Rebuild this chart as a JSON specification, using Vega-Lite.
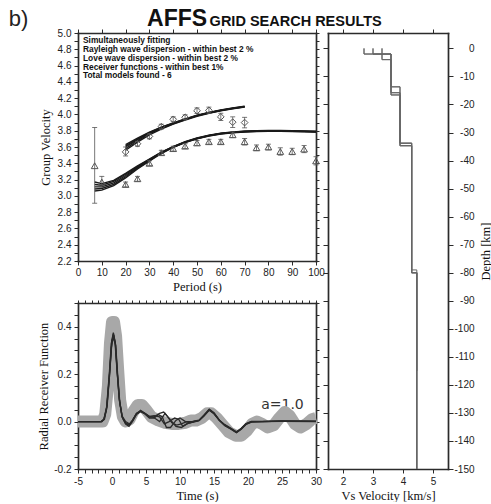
{
"$schema": "https://vega.github.io/schema/vega-lite/v6.json",
"padding": {"left": 8, "top": 7, "right": 0, "bottom": 0},
"background": "white",
"width": 370,
"height": 436,
"config": {
  "view": {"stroke": null},
  "axis": {"domain": true, "domainColor": "#2b2b2b", "domainWidth": 1.7, "domainCap": "square", "grid": false, "labelFont": "Liberation Sans", "labelFontSize": 10, "labelColor": "#222", "tickColor": "#2b2b2b", "tickSize": 4, "labelPadding": 2, "titleFont": "Liberation Serif", "titleFontSize": 12.5, "titleFontWeight": "normal", "titleColor": "#111", "labelOverlap": false, "labelFlush": false},
  "text": {"font": "Liberation Sans"}
},
"datasets": {
  "disp": [
    {"w":"L","p":20,"v":3.54,"lo":3.49,"hi":3.60},
    {"w":"L","p":25,"v":3.64,"lo":3.61,"hi":3.67},
    {"w":"L","p":30,"v":3.73,"lo":3.70,"hi":3.76},
    {"w":"L","p":35,"v":3.85,"lo":3.82,"hi":3.88},
    {"w":"L","p":40,"v":3.94,"lo":3.91,"hi":3.97},
    {"w":"L","p":45,"v":3.965,"lo":3.935,"hi":3.995},
    {"w":"L","p":50,"v":4.045,"lo":4.01,"hi":4.08},
    {"w":"L","p":55,"v":4.05,"lo":4.015,"hi":4.09},
    {"w":"L","p":60,"v":3.97,"lo":3.925,"hi":4.015},
    {"w":"L","p":65,"v":3.905,"lo":3.84,"hi":3.97},
    {"w":"L","p":70,"v":3.90,"lo":3.835,"hi":3.965},
    {"w":"R","p":7,"v":3.37,"lo":2.91,"hi":3.84},
    {"w":"R","p":10,"v":3.17,"lo":3.11,"hi":3.24},
    {"w":"R","p":20,"v":3.14,"lo":3.11,"hi":3.17},
    {"w":"R","p":25,"v":3.21,"lo":3.18,"hi":3.24},
    {"w":"R","p":30,"v":3.40,"lo":3.37,"hi":3.43},
    {"w":"R","p":35,"v":3.53,"lo":3.50,"hi":3.56},
    {"w":"R","p":40,"v":3.58,"lo":3.55,"hi":3.61},
    {"w":"R","p":45,"v":3.61,"lo":3.58,"hi":3.64},
    {"w":"R","p":50,"v":3.65,"lo":3.62,"hi":3.68},
    {"w":"R","p":55,"v":3.665,"lo":3.635,"hi":3.695},
    {"w":"R","p":60,"v":3.665,"lo":3.635,"hi":3.695},
    {"w":"R","p":65,"v":3.75,"lo":3.715,"hi":3.785},
    {"w":"R","p":70,"v":3.665,"lo":3.625,"hi":3.705},
    {"w":"R","p":75,"v":3.59,"lo":3.555,"hi":3.625},
    {"w":"R","p":80,"v":3.60,"lo":3.565,"hi":3.635},
    {"w":"R","p":85,"v":3.545,"lo":3.50,"hi":3.59},
    {"w":"R","p":90,"v":3.545,"lo":3.505,"hi":3.585},
    {"w":"R","p":95,"v":3.575,"lo":3.53,"hi":3.62},
    {"w":"R","p":100,"v":3.43,"lo":3.38,"hi":3.48}
  ],
  "dispModel": [
    {"k":"Ra","p":7,"v":3.06},{"k":"Ra","p":10,"v":3.07},{"k":"Ra","p":15,"v":3.125},{"k":"Ra","p":20,"v":3.22},{"k":"Ra","p":25,"v":3.33},{"k":"Ra","p":30,"v":3.425},{"k":"Ra","p":35,"v":3.52},{"k":"Ra","p":40,"v":3.595},{"k":"Ra","p":45,"v":3.655},{"k":"Ra","p":50,"v":3.70},{"k":"Ra","p":55,"v":3.735},{"k":"Ra","p":60,"v":3.76},{"k":"Ra","p":65,"v":3.775},{"k":"Ra","p":70,"v":3.785},{"k":"Ra","p":75,"v":3.79},{"k":"Ra","p":80,"v":3.792},{"k":"Ra","p":85,"v":3.792},{"k":"Ra","p":90,"v":3.79},{"k":"Ra","p":95,"v":3.787},{"k":"Ra","p":100,"v":3.783},
    {"k":"Rb","p":7,"v":3.085},{"k":"Rb","p":10,"v":3.09},{"k":"Rb","p":15,"v":3.14},{"k":"Rb","p":20,"v":3.235},{"k":"Rb","p":25,"v":3.34},{"k":"Rb","p":30,"v":3.432},{"k":"Rb","p":35,"v":3.525},{"k":"Rb","p":40,"v":3.597},{"k":"Rb","p":45,"v":3.657},{"k":"Rb","p":50,"v":3.703},{"k":"Rb","p":55,"v":3.738},{"k":"Rb","p":60,"v":3.763},{"k":"Rb","p":65,"v":3.778},{"k":"Rb","p":70,"v":3.788},{"k":"Rb","p":75,"v":3.793},{"k":"Rb","p":80,"v":3.795},{"k":"Rb","p":85,"v":3.795},{"k":"Rb","p":90,"v":3.793},{"k":"Rb","p":95,"v":3.79},{"k":"Rb","p":100,"v":3.786},
    {"k":"Rc","p":7,"v":3.11},{"k":"Rc","p":10,"v":3.11},{"k":"Rc","p":15,"v":3.16},{"k":"Rc","p":20,"v":3.25},{"k":"Rc","p":25,"v":3.35},{"k":"Rc","p":30,"v":3.44},{"k":"Rc","p":35,"v":3.53},{"k":"Rc","p":40,"v":3.60},{"k":"Rc","p":45,"v":3.66},{"k":"Rc","p":50,"v":3.705},{"k":"Rc","p":55,"v":3.74},{"k":"Rc","p":60,"v":3.765},{"k":"Rc","p":65,"v":3.78},{"k":"Rc","p":70,"v":3.79},{"k":"Rc","p":75,"v":3.795},{"k":"Rc","p":80,"v":3.797},{"k":"Rc","p":85,"v":3.797},{"k":"Rc","p":90,"v":3.795},{"k":"Rc","p":95,"v":3.792},{"k":"Rc","p":100,"v":3.788},
    {"k":"Rd","p":7,"v":3.14},{"k":"Rd","p":10,"v":3.13},{"k":"Rd","p":15,"v":3.178},{"k":"Rd","p":20,"v":3.265},{"k":"Rd","p":25,"v":3.36},{"k":"Rd","p":30,"v":3.448},{"k":"Rd","p":35,"v":3.535},{"k":"Rd","p":40,"v":3.603},{"k":"Rd","p":45,"v":3.663},{"k":"Rd","p":50,"v":3.708},{"k":"Rd","p":55,"v":3.743},{"k":"Rd","p":60,"v":3.768},{"k":"Rd","p":65,"v":3.783},{"k":"Rd","p":70,"v":3.793},{"k":"Rd","p":75,"v":3.798},{"k":"Rd","p":80,"v":3.80},{"k":"Rd","p":85,"v":3.80},{"k":"Rd","p":90,"v":3.798},{"k":"Rd","p":95,"v":3.795},{"k":"Rd","p":100,"v":3.791},
    {"k":"Re","p":7,"v":3.17},{"k":"Re","p":10,"v":3.15},{"k":"Re","p":15,"v":3.19},{"k":"Re","p":20,"v":3.275},{"k":"Re","p":25,"v":3.368},{"k":"Re","p":30,"v":3.452},{"k":"Re","p":35,"v":3.538},{"k":"Re","p":40,"v":3.605},{"k":"Re","p":45,"v":3.665},{"k":"Re","p":50,"v":3.71},{"k":"Re","p":55,"v":3.745},{"k":"Re","p":60,"v":3.77},{"k":"Re","p":65,"v":3.785},{"k":"Re","p":70,"v":3.795},{"k":"Re","p":75,"v":3.80},{"k":"Re","p":80,"v":3.802},{"k":"Re","p":85,"v":3.802},{"k":"Re","p":90,"v":3.80},{"k":"Re","p":95,"v":3.797},{"k":"Re","p":100,"v":3.793},
    {"k":"La","p":20,"v":3.56},{"k":"La","p":25,"v":3.66},{"k":"La","p":30,"v":3.75},{"k":"La","p":35,"v":3.82},{"k":"La","p":40,"v":3.88},{"k":"La","p":45,"v":3.932},{"k":"La","p":50,"v":3.978},{"k":"La","p":55,"v":4.015},{"k":"La","p":60,"v":4.045},{"k":"La","p":65,"v":4.07},{"k":"La","p":70,"v":4.09},
    {"k":"Lb","p":20,"v":3.58},{"k":"Lb","p":25,"v":3.675},{"k":"Lb","p":30,"v":3.76},{"k":"Lb","p":35,"v":3.828},{"k":"Lb","p":40,"v":3.885},{"k":"Lb","p":45,"v":3.936},{"k":"Lb","p":50,"v":3.982},{"k":"Lb","p":55,"v":4.018},{"k":"Lb","p":60,"v":4.048},{"k":"Lb","p":65,"v":4.073},{"k":"Lb","p":70,"v":4.093},
    {"k":"Lc","p":20,"v":3.60},{"k":"Lc","p":25,"v":3.69},{"k":"Lc","p":30,"v":3.77},{"k":"Lc","p":35,"v":3.835},{"k":"Lc","p":40,"v":3.89},{"k":"Lc","p":45,"v":3.94},{"k":"Lc","p":50,"v":3.985},{"k":"Lc","p":55,"v":4.02},{"k":"Lc","p":60,"v":4.05},{"k":"Lc","p":65,"v":4.075},{"k":"Lc","p":70,"v":4.095},
    {"k":"Ld","p":20,"v":3.615},{"k":"Ld","p":25,"v":3.70},{"k":"Ld","p":30,"v":3.776},{"k":"Ld","p":35,"v":3.84},{"k":"Ld","p":40,"v":3.894},{"k":"Ld","p":45,"v":3.943},{"k":"Ld","p":50,"v":3.988},{"k":"Ld","p":55,"v":4.022},{"k":"Ld","p":60,"v":4.052},{"k":"Ld","p":65,"v":4.077},{"k":"Ld","p":70,"v":4.097},
    {"k":"Le","p":20,"v":3.63},{"k":"Le","p":25,"v":3.71},{"k":"Le","p":30,"v":3.782},{"k":"Le","p":35,"v":3.845},{"k":"Le","p":40,"v":3.897},{"k":"Le","p":45,"v":3.946},{"k":"Le","p":50,"v":3.99},{"k":"Le","p":55,"v":4.025},{"k":"Le","p":60,"v":4.055},{"k":"Le","p":65,"v":4.08},{"k":"Le","p":70,"v":4.10}
  ],
  "notes": [
    {"lines": ["Simultaneously fitting", "Rayleigh wave dispersion - within best 2 %", "Love wave dispersion - within best 2 %", "Receiver functions - within best 1%", "Total models found - 6"]}
  ],
  "rfObs": [
    {"t":-5,"a":0},{"t":-1.4,"a":0},{"t":-1.0,"a":0.03},{"t":-0.6,"a":0.15},{"t":-0.3,"a":0.33},{"t":0.0,"a":0.42},{"t":0.3,"a":0.42},{"t":0.6,"a":0.36},{"t":0.9,"a":0.22},{"t":1.2,"a":0.09},{"t":1.6,"a":0.02},{"t":2.0,"a":0.0},{"t":2.6,"a":0.01},{"t":3.2,"a":0.045},{"t":3.8,"a":0.07},{"t":4.4,"a":0.07},{"t":5.0,"a":0.05},{"t":5.8,"a":0.02},{"t":6.8,"a":0.005},{"t":7.8,"a":-0.005},{"t":8.8,"a":-0.01},{"t":9.8,"a":-0.01},{"t":10.8,"a":-0.005},{"t":11.6,"a":0.005},{"t":12.4,"a":0.005},{"t":13.2,"a":0.015},{"t":14.0,"a":0.035},{"t":14.6,"a":0.035},{"t":15.4,"a":0.015},{"t":16.3,"a":-0.015},{"t":17.2,"a":-0.045},{"t":18.2,"a":-0.06},{"t":19.0,"a":-0.06},{"t":19.8,"a":-0.04},{"t":20.6,"a":-0.01},{"t":21.3,"a":0.0},{"t":22.1,"a":-0.01},{"t":22.9,"a":-0.025},{"t":23.8,"a":-0.015},{"t":24.6,"a":0.015},{"t":25.4,"a":0.04},{"t":26.1,"a":0.025},{"t":26.9,"a":-0.01},{"t":27.7,"a":-0.025},{"t":28.6,"a":-0.01},{"t":29.4,"a":0.01},{"t":30.0,"a":0.015}
  ],
  "rfModel": [
    {"m":"A","t":-5,"a":0},{"m":"A","t":-1.6,"a":0},{"m":"A","t":-1.2,"a":0.01},{"m":"A","t":-0.8,"a":0.06},{"m":"A","t":-0.4,"a":0.2},{"m":"A","t":-0.1,"a":0.33},{"m":"A","t":0.2,"a":0.375},{"m":"A","t":0.5,"a":0.33},{"m":"A","t":0.8,"a":0.2},{"m":"A","t":1.1,"a":0.09},{"m":"A","t":1.5,"a":0.02},{"m":"A","t":2.0,"a":-0.005},{"m":"A","t":2.5,"a":-0.015},{"m":"A","t":3.0,"a":0.005},{"m":"A","t":3.6,"a":0.035},{"m":"A","t":4.2,"a":0.045},{"m":"A","t":4.8,"a":0.035},{"m":"A","t":5.5,"a":0.02},{"m":"A","t":6.2,"a":0.02},{"m":"A","t":7.0,"a":0.035},{"m":"A","t":7.6,"a":0.04},{"m":"A","t":8.2,"a":0.02},{"m":"A","t":8.8,"a":-0.005},{"m":"A","t":9.5,"a":-0.015},{"m":"A","t":10.2,"a":-0.01},{"m":"A","t":11,"a":0.0},{"m":"A","t":12,"a":0.0},{"m":"A","t":12.8,"a":0.005},{"m":"A","t":13.5,"a":0.025},{"m":"A","t":14.3,"a":0.05},{"m":"A","t":15.0,"a":0.035},{"m":"A","t":15.8,"a":0.005},{"m":"A","t":16.6,"a":-0.015},{"m":"A","t":17.5,"a":-0.03},{"m":"A","t":18.3,"a":-0.045},{"m":"A","t":19.0,"a":-0.03},{"m":"A","t":19.7,"a":-0.01},{"m":"A","t":20.5,"a":0.0},{"m":"A","t":22,"a":0.0},{"m":"A","t":25,"a":0.002},{"m":"A","t":30,"a":0.001},
    {"m":"B","t":-5,"a":0},{"m":"B","t":-1.5,"a":0},{"m":"B","t":-1.1,"a":0.01},{"m":"B","t":-0.7,"a":0.07},{"m":"B","t":-0.3,"a":0.22},{"m":"B","t":0.0,"a":0.34},{"m":"B","t":0.25,"a":0.365},{"m":"B","t":0.55,"a":0.32},{"m":"B","t":0.85,"a":0.19},{"m":"B","t":1.15,"a":0.08},{"m":"B","t":1.55,"a":0.015},{"m":"B","t":2.0,"a":-0.01},{"m":"B","t":2.5,"a":-0.02},{"m":"B","t":3.0,"a":0.0},{"m":"B","t":3.6,"a":0.03},{"m":"B","t":4.2,"a":0.042},{"m":"B","t":4.8,"a":0.033},{"m":"B","t":5.5,"a":0.015},{"m":"B","t":6.2,"a":0.015},{"m":"B","t":6.8,"a":0.03},{"m":"B","t":7.4,"a":0.02},{"m":"B","t":8.0,"a":-0.025},{"m":"B","t":8.6,"a":-0.025},{"m":"B","t":9.4,"a":0.005},{"m":"B","t":10.0,"a":0.015},{"m":"B","t":10.8,"a":0.0},{"m":"B","t":11.5,"a":-0.005},{"m":"B","t":12,"a":-0.002},{"m":"B","t":12.8,"a":0.004},{"m":"B","t":13.5,"a":0.022},{"m":"B","t":14.3,"a":0.048},{"m":"B","t":15.0,"a":0.033},{"m":"B","t":15.8,"a":0.004},{"m":"B","t":16.6,"a":-0.017},{"m":"B","t":17.5,"a":-0.032},{"m":"B","t":18.3,"a":-0.047},{"m":"B","t":19.0,"a":-0.032},{"m":"B","t":19.7,"a":-0.012},{"m":"B","t":20.5,"a":-0.002},{"m":"B","t":22,"a":0.0},{"m":"B","t":25,"a":0.001},{"m":"B","t":30,"a":0.0},
    {"m":"C","t":-5,"a":0},{"m":"C","t":-1.6,"a":0},{"m":"C","t":-1.2,"a":0.008},{"m":"C","t":-0.8,"a":0.05},{"m":"C","t":-0.4,"a":0.18},{"m":"C","t":-0.1,"a":0.31},{"m":"C","t":0.15,"a":0.355},{"m":"C","t":0.45,"a":0.33},{"m":"C","t":0.75,"a":0.21},{"m":"C","t":1.05,"a":0.1},{"m":"C","t":1.45,"a":0.025},{"m":"C","t":2.0,"a":0.0},{"m":"C","t":2.6,"a":-0.01},{"m":"C","t":3.1,"a":0.008},{"m":"C","t":3.6,"a":0.032},{"m":"C","t":4.2,"a":0.047},{"m":"C","t":4.8,"a":0.036},{"m":"C","t":5.5,"a":0.022},{"m":"C","t":6.2,"a":0.025},{"m":"C","t":7.0,"a":0.02},{"m":"C","t":7.7,"a":-0.01},{"m":"C","t":8.4,"a":0.0},{"m":"C","t":9.2,"a":0.015},{"m":"C","t":9.8,"a":0.01},{"m":"C","t":10.4,"a":-0.02},{"m":"C","t":11,"a":-0.01},{"m":"C","t":12,"a":0.002},{"m":"C","t":12.8,"a":0.006},{"m":"C","t":13.5,"a":0.027},{"m":"C","t":14.3,"a":0.052},{"m":"C","t":15.0,"a":0.037},{"m":"C","t":15.8,"a":0.006},{"m":"C","t":16.6,"a":-0.013},{"m":"C","t":17.5,"a":-0.028},{"m":"C","t":18.3,"a":-0.043},{"m":"C","t":19.0,"a":-0.028},{"m":"C","t":19.7,"a":-0.008},{"m":"C","t":20.5,"a":0.001},{"m":"C","t":22,"a":0.001},{"m":"C","t":25,"a":0.003},{"m":"C","t":30,"a":0.002},
    {"m":"D","t":-5,"a":0},{"m":"D","t":-1.5,"a":0},{"m":"D","t":-1.15,"a":0.012},{"m":"D","t":-0.75,"a":0.065},{"m":"D","t":-0.35,"a":0.21},{"m":"D","t":-0.05,"a":0.335},{"m":"D","t":0.2,"a":0.37},{"m":"D","t":0.5,"a":0.325},{"m":"D","t":0.8,"a":0.195},{"m":"D","t":1.1,"a":0.085},{"m":"D","t":1.5,"a":0.018},{"m":"D","t":2.0,"a":-0.008},{"m":"D","t":2.5,"a":-0.012},{"m":"D","t":3.0,"a":0.003},{"m":"D","t":3.6,"a":0.033},{"m":"D","t":4.2,"a":0.044},{"m":"D","t":4.8,"a":0.034},{"m":"D","t":5.5,"a":0.02},{"m":"D","t":6.0,"a":0.02},{"m":"D","t":7.0,"a":0.0},{"m":"D","t":7.8,"a":0.035},{"m":"D","t":8.5,"a":0.01},{"m":"D","t":9.4,"a":-0.02},{"m":"D","t":10.2,"a":-0.025},{"m":"D","t":11,"a":-0.01},{"m":"D","t":12,"a":0.0},{"m":"D","t":12.8,"a":0.005},{"m":"D","t":13.5,"a":0.024},{"m":"D","t":14.3,"a":0.049},{"m":"D","t":15.0,"a":0.034},{"m":"D","t":15.8,"a":0.005},{"m":"D","t":16.6,"a":-0.016},{"m":"D","t":17.5,"a":-0.031},{"m":"D","t":18.3,"a":-0.046},{"m":"D","t":19.0,"a":-0.031},{"m":"D","t":19.7,"a":-0.011},{"m":"D","t":20.5,"a":-0.001},{"m":"D","t":22,"a":0.0},{"m":"D","t":25,"a":0.002},{"m":"D","t":30,"a":0.001}
  ],
  "vs": [
    {"m":1,"i":0,"vs":2.7,"z":0},{"m":1,"i":1,"vs":2.7,"z":-2},{"m":1,"i":2,"vs":3.6,"z":-2},{"m":1,"i":3,"vs":3.6,"z":-13.7},{"m":1,"i":4,"vs":3.9,"z":-13.7},{"m":1,"i":5,"vs":3.9,"z":-33.8},{"m":1,"i":6,"vs":4.29,"z":-33.8},{"m":1,"i":7,"vs":4.29,"z":-80},{"m":1,"i":8,"vs":4.46,"z":-80},{"m":1,"i":9,"vs":4.46,"z":-150},
    {"m":2,"i":0,"vs":3.0,"z":0},{"m":2,"i":1,"vs":3.0,"z":-2},{"m":2,"i":2,"vs":3.6,"z":-2},{"m":2,"i":3,"vs":3.6,"z":-15.8},{"m":2,"i":4,"vs":3.9,"z":-15.8},{"m":2,"i":5,"vs":3.9,"z":-34.7},{"m":2,"i":6,"vs":4.29,"z":-34.7},{"m":2,"i":7,"vs":4.29,"z":-79},{"m":2,"i":8,"vs":4.46,"z":-79},{"m":2,"i":9,"vs":4.46,"z":-150},
    {"m":3,"i":0,"vs":3.3,"z":0},{"m":3,"i":1,"vs":3.3,"z":-4},{"m":3,"i":2,"vs":3.6,"z":-4},{"m":3,"i":3,"vs":3.6,"z":-16.6},{"m":3,"i":4,"vs":3.9,"z":-16.6},{"m":3,"i":5,"vs":3.9,"z":-33.8},{"m":3,"i":6,"vs":4.29,"z":-33.8},{"m":3,"i":7,"vs":4.29,"z":-80},{"m":3,"i":8,"vs":4.46,"z":-80},{"m":3,"i":9,"vs":4.46,"z":-115},
    {"m":4,"i":0,"vs":2.7,"z":0},{"m":4,"i":1,"vs":2.7,"z":-2},{"m":4,"i":2,"vs":3.3,"z":-2},{"m":4,"i":3,"vs":3.3,"z":-4},{"m":4,"i":4,"vs":3.6,"z":-4},{"m":4,"i":5,"vs":3.6,"z":-13.7},{"m":4,"i":6,"vs":3.9,"z":-13.7},{"m":4,"i":7,"vs":3.9,"z":-34.7},{"m":4,"i":8,"vs":4.29,"z":-34.7},{"m":4,"i":9,"vs":4.29,"z":-80},{"m":4,"i":10,"vs":4.46,"z":-80},{"m":4,"i":11,"vs":4.46,"z":-150},
    {"m":5,"i":0,"vs":3.0,"z":0},{"m":5,"i":1,"vs":3.0,"z":-2},{"m":5,"i":2,"vs":3.6,"z":-2},{"m":5,"i":3,"vs":3.6,"z":-16.6},{"m":5,"i":4,"vs":3.9,"z":-16.6},{"m":5,"i":5,"vs":3.9,"z":-33.8},{"m":5,"i":6,"vs":4.29,"z":-33.8},{"m":5,"i":7,"vs":4.29,"z":-80},{"m":5,"i":8,"vs":4.46,"z":-80},{"m":5,"i":9,"vs":4.46,"z":-115},
    {"m":6,"i":0,"vs":3.3,"z":0},{"m":6,"i":1,"vs":3.3,"z":-2},{"m":6,"i":2,"vs":3.6,"z":-2},{"m":6,"i":3,"vs":3.6,"z":-15.8},{"m":6,"i":4,"vs":3.9,"z":-15.8},{"m":6,"i":5,"vs":3.9,"z":-34.7},{"m":6,"i":6,"vs":4.29,"z":-34.7},{"m":6,"i":7,"vs":4.29,"z":-80},{"m":6,"i":8,"vs":4.46,"z":-80},{"m":6,"i":9,"vs":4.46,"z":-150}
  ]
},
"resolve": {"scale": {"x": "independent", "y": "independent"}, "axis": {"x": "independent", "y": "independent"}},
"layer": [
  {
    "data": {"name": "dispModel"},
    "mark": {"type": "line", "color": "#1a1a1a", "strokeWidth": 1.4},
    "encoding": {
      "x": {"field": "p", "type": "quantitative", "scale": {"domain": [0, 100], "range": [0, 238], "nice": false, "zero": false},
            "axis": {"orient": "bottom", "offset": -208, "values": [0,10,20,30,40,50,60,70,80,90,100], "format": "d", "title": "Period (s)", "titlePadding": 3}},
      "y": {"field": "v", "type": "quantitative", "scale": {"domain": [2.2, 5.0], "range": [228, 0], "nice": false, "zero": false},
            "axis": {"orient": "left", "values": [2.2,2.3,2.4,2.5,2.6,2.7,2.8,2.9,3.0,3.1,3.2,3.3,3.4,3.5,3.6,3.7,3.8,3.9,4.0,4.1,4.2,4.3,4.4,4.5,4.6,4.7,4.8,4.9,5.0],
                     "labelExpr": "abs(round(datum.value*10)) % 2 == 0 ? format(datum.value, '.1f') : ''", "labelPadding": 3,
                     "title": "Group Velocity", "minExtent": 22, "maxExtent": 22, "titlePadding": 4}},
      "detail": {"field": "k"}
    }
  },
  {
    "data": {"name": "disp"},
    "mark": {"type": "point", "opacity": 0},
    "encoding": {
      "x": {"field": "p", "type": "quantitative", "scale": {"domain": [0, 100], "range": [0, 238], "nice": false, "zero": false},
            "axis": {"orient": "top", "values": [0,10,20,30,40,50,60,70,80,90,100], "labels": false, "title": null, "tickSize": 4}},
      "y": {"field": "v", "type": "quantitative", "scale": {"domain": [2.2, 5.0], "range": [228, 0], "nice": false, "zero": false},
            "axis": {"orient": "right", "offset": -132, "values": [2.2,2.3,2.4,2.5,2.6,2.7,2.8,2.9,3.0,3.1,3.2,3.3,3.4,3.5,3.6,3.7,3.8,3.9,4.0,4.1,4.2,4.3,4.4,4.5,4.6,4.7,4.8,4.9,5.0], "labels": false, "title": null, "tickSize": 3}}
    }
  },
  {
    "data": {"name": "disp"},
    "mark": {"type": "rule", "color": "#555", "strokeWidth": 0.8},
    "encoding": {
      "x": {"field": "p", "type": "quantitative", "scale": {"domain": [0, 100], "range": [0, 238], "nice": false, "zero": false}, "axis": null},
      "y": {"field": "lo", "type": "quantitative", "scale": {"domain": [2.2, 5.0], "range": [228, 0], "nice": false, "zero": false}, "axis": null},
      "y2": {"field": "hi"}
    }
  },
  {
    "data": {"name": "disp"},
    "mark": {"type": "tick", "orient": "horizontal", "size": 5, "thickness": 0.8, "color": "#555", "opacity": 1},
    "encoding": {
      "x": {"field": "p", "type": "quantitative", "scale": {"domain": [0, 100], "range": [0, 238], "nice": false, "zero": false}, "axis": null},
      "y": {"field": "lo", "type": "quantitative", "scale": {"domain": [2.2, 5.0], "range": [228, 0], "nice": false, "zero": false}, "axis": null}
    }
  },
  {
    "data": {"name": "disp"},
    "mark": {"type": "tick", "orient": "horizontal", "size": 5, "thickness": 0.8, "color": "#555", "opacity": 1},
    "encoding": {
      "x": {"field": "p", "type": "quantitative", "scale": {"domain": [0, 100], "range": [0, 238], "nice": false, "zero": false}, "axis": null},
      "y": {"field": "hi", "type": "quantitative", "scale": {"domain": [2.2, 5.0], "range": [228, 0], "nice": false, "zero": false}, "axis": null}
    }
  },
  {
    "data": {"name": "disp"},
    "mark": {"type": "point", "filled": false, "color": "#555", "strokeWidth": 1, "size": 45, "opacity": 1},
    "encoding": {
      "x": {"field": "p", "type": "quantitative", "scale": {"domain": [0, 100], "range": [0, 238], "nice": false, "zero": false}, "axis": null},
      "y": {"field": "v", "type": "quantitative", "scale": {"domain": [2.2, 5.0], "range": [228, 0], "nice": false, "zero": false}, "axis": null},
      "shape": {"field": "w", "type": "nominal", "scale": {"domain": ["L", "R"], "range": ["diamond", "triangle-up"]}, "legend": null}
    }
  },
  {
    "data": {"name": "notes"},
    "mark": {"type": "text", "align": "left", "baseline": "top", "font": "Liberation Sans", "fontWeight": "bold", "fontSize": 8.4, "lineHeight": 8.8, "color": "#111"},
    "encoding": {
      "x": {"datum": 2.1, "type": "quantitative", "scale": {"domain": [0, 100], "range": [0, 238], "nice": false, "zero": false}, "axis": null},
      "y": {"datum": 4.96, "type": "quantitative", "scale": {"domain": [2.2, 5.0], "range": [228, 0], "nice": false, "zero": false}, "axis": null},
      "text": {"field": "lines"}
    }
  },
  {
    "data": {"values": [{"txt": "b)"}]},
    "mark": {"type": "text", "align": "left", "baseline": "alphabetic", "font": "Liberation Sans", "fontSize": 22, "color": "#222"},
    "encoding": {
      "x": {"datum": -29.1, "type": "quantitative", "scale": {"domain": [0, 100], "range": [0, 238], "nice": false, "zero": false}, "axis": null},
      "y": {"datum": 5.092, "type": "quantitative", "scale": {"domain": [2.2, 5.0], "range": [228, 0], "nice": false, "zero": false}, "axis": null},
      "text": {"field": "txt"}
    }
  },
  {
    "data": {"values": [{"txt": "AFFS"}]},
    "mark": {"type": "text", "align": "left", "baseline": "alphabetic", "font": "Liberation Sans", "fontWeight": "bold", "fontSize": 23, "color": "#111"},
    "encoding": {
      "x": {"datum": 29.0, "type": "quantitative", "scale": {"domain": [0, 100], "range": [0, 238], "nice": false, "zero": false}, "axis": null},
      "y": {"datum": 5.08, "type": "quantitative", "scale": {"domain": [2.2, 5.0], "range": [228, 0], "nice": false, "zero": false}, "axis": null},
      "text": {"field": "txt"}
    }
  },
  {
    "data": {"values": [{"txt": "GRID SEARCH RESULTS"}]},
    "mark": {"type": "text", "align": "left", "baseline": "alphabetic", "font": "Liberation Sans", "fontWeight": "bold", "fontSize": 14.5, "color": "#111"},
    "encoding": {
      "x": {"datum": 55.3, "type": "quantitative", "scale": {"domain": [0, 100], "range": [0, 238], "nice": false, "zero": false}, "axis": null},
      "y": {"datum": 5.086, "type": "quantitative", "scale": {"domain": [2.2, 5.0], "range": [228, 0], "nice": false, "zero": false}, "axis": null},
      "text": {"field": "txt"}
    }
  },
  {
    "data": {"values": [{"txt": "a=1.0"}]},
    "mark": {"type": "text", "align": "center", "baseline": "middle", "font": "DejaVu Sans", "fontSize": 14, "color": "#333"},
    "encoding": {
      "x": {"datum": 25.07, "type": "quantitative", "scale": {"domain": [-5, 30], "range": [0, 238], "nice": false, "zero": false}, "axis": null},
      "y": {"datum": 0.069, "type": "quantitative", "scale": {"domain": [-0.2, 0.5], "range": [436, 270], "nice": false, "zero": false}, "axis": null},
      "text": {"field": "txt"}
    }
  },
  {
    "data": {"name": "rfObs"},
    "mark": {"type": "line", "color": "#a8a8a8", "strokeWidth": 12, "strokeJoin": "round", "strokeCap": "butt"},
    "encoding": {
      "x": {"field": "t", "type": "quantitative", "scale": {"domain": [-5, 30], "range": [0, 238], "nice": false, "zero": false},
            "axis": {"orient": "bottom", "values": [-5,-4,-3,-2,-1,0,1,2,3,4,5,6,7,8,9,10,11,12,13,14,15,16,17,18,19,20,21,22,23,24,25,26,27,28,29,30],
                     "labelExpr": "datum.value % 5 == 0 ? '' + datum.value : ''", "labelPadding": 3, "title": "Time (s)", "titlePadding": 3}},
      "y": {"field": "a", "type": "quantitative", "scale": {"domain": [-0.2, 0.5], "range": [436, 270], "nice": false, "zero": false},
            "axis": {"orient": "left", "values": [-0.2,-0.15,-0.1,-0.05,0,0.05,0.1,0.15,0.2,0.25,0.3,0.35,0.4,0.45,0.5],
                     "labelExpr": "abs(round(datum.value*100)) % 20 == 0 ? replace(format(datum.value, '.1f'), '\u2212', '-') : ''", "labelPadding": 3,
                     "title": "Radial Receiver Function", "minExtent": 22, "maxExtent": 22, "titlePadding": 6}}
    }
  },
  {
    "data": {"name": "rfObs"},
    "mark": {"type": "point", "opacity": 0},
    "encoding": {
      "x": {"field": "t", "type": "quantitative", "scale": {"domain": [-5, 30], "range": [0, 238], "nice": false, "zero": false},
            "axis": {"orient": "top", "offset": -270, "values": [-5,-4,-3,-2,-1,0,1,2,3,4,5,6,7,8,9,10,11,12,13,14,15,16,17,18,19,20,21,22,23,24,25,26,27,28,29,30], "labels": false, "title": null, "tickSize": 3}},
      "y": {"field": "a", "type": "quantitative", "scale": {"domain": [-0.2, 0.5], "range": [436, 270], "nice": false, "zero": false},
            "axis": {"orient": "right", "offset": -132, "values": [-0.2,-0.15,-0.1,-0.05,0,0.05,0.1,0.15,0.2,0.25,0.3,0.35,0.4,0.45,0.5], "labels": false, "title": null, "tickSize": 3}}
    }
  },
  {
    "data": {"name": "rfModel"},
    "mark": {"type": "line", "color": "#2a2a2a", "strokeWidth": 1.3},
    "encoding": {
      "x": {"field": "t", "type": "quantitative", "scale": {"domain": [-5, 30], "range": [0, 238], "nice": false, "zero": false}, "axis": null},
      "y": {"field": "a", "type": "quantitative", "scale": {"domain": [-0.2, 0.5], "range": [436, 270], "nice": false, "zero": false}, "axis": null},
      "detail": {"field": "m"}
    }
  },
  {
    "data": {"name": "vs"},
    "mark": {"type": "line", "color": "#666", "strokeWidth": 1},
    "encoding": {
      "x": {"field": "vs", "type": "quantitative", "scale": {"domain": [1.5, 5.5], "range": [250, 370], "nice": false, "zero": false},
            "axis": {"orient": "bottom", "values": [2, 3, 4, 5], "format": "d", "labelPadding": 3, "title": "Vs Velocity [km/s]", "titlePadding": 3}},
      "y": {"field": "z", "type": "quantitative", "scale": {"domain": [-150, 5.5], "range": [436, 0], "nice": false, "zero": false},
            "axis": {"orient": "right", "values": [-150,-140,-130,-120,-110,-100,-90,-80,-70,-60,-50,-40,-30,-20,-10,0], "labelExpr": "'' + datum.value", "tickSize": 5, "labelAlign": "right", "labelPadding": 21, "title": "Depth [km]", "titleAngle": -90, "titleBaseline": "top", "titlePadding": 5}},
      "detail": {"field": "m"},
      "order": {"field": "i", "type": "quantitative"}
    }
  },
  {
    "data": {"name": "vs"},
    "mark": {"type": "point", "opacity": 0},
    "encoding": {
      "x": {"field": "vs", "type": "quantitative", "scale": {"domain": [1.5, 5.5], "range": [250, 370], "nice": false, "zero": false},
            "axis": {"orient": "top", "values": [2, 3, 4, 5], "labels": false, "title": null, "tickSize": 4}},
      "y": {"field": "z", "type": "quantitative", "scale": {"domain": [-150, 5.5], "range": [436, 0], "nice": false, "zero": false},
            "axis": {"orient": "left", "offset": -250, "values": [-150,-140,-130,-120,-110,-100,-90,-80,-70,-60,-50,-40,-30,-20,-10,0], "labels": false, "title": null, "tickSize": 5}}
    }
  }
]
}
